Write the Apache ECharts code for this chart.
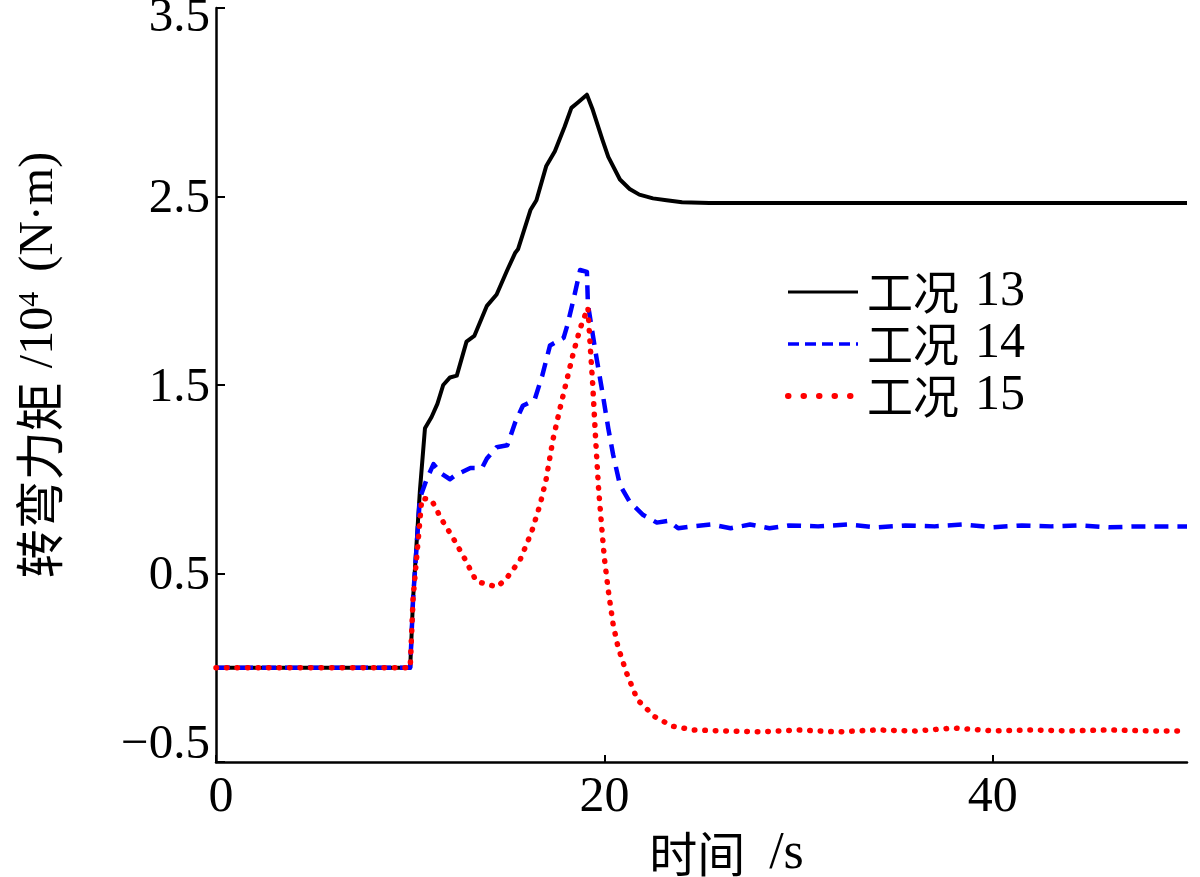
<!DOCTYPE html>
<html>
<head>
<meta charset="utf-8">
<script src="https://cdn.jsdelivr.net/npm/echarts@6/dist/echarts.min.js"></script>
<style>
html,body{margin:0;padding:0;background:#fff;}
#chart{width:1200px;height:877px;}
</style>
</head>
<body>
<div id="chart"></div>
<script>
// Series names
const seriesNames = ['工况 13', '工况 14', '工况 15'];

// 工况 13 (black solid)
const t13 = [0, 10, 10.15, 10.5, 10.76, 11.1, 11.4, 11.7, 12.05, 12.4, 12.9, 13.3, 13.95, 14.45, 15.0, 15.4, 15.55, 16.2, 16.5, 17.0, 17.45, 17.95, 18.3, 18.65, 19.1, 19.4, 19.9, 20.2, 20.8, 21.3, 21.8, 22.5, 23.2, 24.0, 25.4, 30, 35, 40, 45, 50];
const v13 = [0, 0, 0.37, 0.94, 1.27, 1.33, 1.40, 1.50, 1.54, 1.55, 1.73, 1.76, 1.92, 1.98, 2.11, 2.20, 2.22, 2.43, 2.48, 2.66, 2.74, 2.87, 2.97, 3.00, 3.04, 2.96, 2.80, 2.71, 2.59, 2.54, 2.51, 2.49, 2.48, 2.47, 2.465, 2.465, 2.465, 2.465, 2.465, 2.465];

// 工况 14 (blue dashed)
const t14 = [0, 10, 10.15, 10.5, 10.85, 11.2, 11.6, 12.05, 12.3, 13.1, 13.7, 13.95, 14.45, 15.0, 15.4, 15.8, 16.4, 16.8, 17.2, 17.9, 18.1, 18.4, 18.75, 19.1, 19.15, 19.35, 19.6, 19.9, 20.2, 20.45, 20.8, 21.3, 22.0, 22.7, 23.3, 23.8, 24.5, 25.5, 26.5, 27.5, 28.5, 29.5, 31, 32.5, 34, 35.5, 37, 38.5, 40, 41.5, 43, 44.5, 46, 47.5, 50];
const v14 = [0, 0, 0.37, 0.90, 1.00, 1.08, 1.03, 1.00, 1.02, 1.06, 1.06, 1.11, 1.17, 1.18, 1.30, 1.39, 1.42, 1.55, 1.71, 1.75, 1.82, 1.95, 2.11, 2.10, 1.93, 1.80, 1.64, 1.46, 1.27, 1.13, 0.97, 0.88, 0.81, 0.77, 0.78, 0.74, 0.75, 0.76, 0.74, 0.76, 0.74, 0.755, 0.75, 0.76, 0.745, 0.755, 0.75, 0.76, 0.745, 0.755, 0.75, 0.755, 0.745, 0.75, 0.75];

// 工况 15 (red dotted)
const t15 = [0, 10, 10.15, 10.6, 11.1, 11.6, 12.2, 12.8, 13.4, 14.0, 14.5, 15.0, 15.65, 16.25, 16.7, 17.0, 17.35, 17.7, 18.05, 18.4, 18.75, 19.15, 19.25, 19.4, 19.55, 19.7, 19.85, 20.0, 20.2, 20.45, 20.7, 21.15, 21.7, 22.6, 23.5, 24.6, 26, 28, 30, 32, 34, 36, 38, 40, 42, 44, 46, 48, 50];
const v15 = [0, 0, 0.37, 0.90, 0.89, 0.79, 0.69, 0.58, 0.46, 0.44, 0.43, 0.48, 0.57, 0.72, 0.87, 1.00, 1.21, 1.37, 1.52, 1.67, 1.80, 1.91, 1.74, 1.50, 1.21, 0.95, 0.76, 0.58, 0.41, 0.23, 0.11, -0.03, -0.17, -0.26, -0.31, -0.33, -0.335, -0.34, -0.33, -0.34, -0.33, -0.335, -0.32, -0.335, -0.33, -0.335, -0.33, -0.335, -0.335];

// Axis settings
const xMin = 0, xMax = 50, xInterval = 20;
const yMin = -0.5, yMax = 3.5, yInterval = 1;

const SERIF = "'Liberation Serif', serif";
const CJK = "'Noto Sans CJK SC', sans-serif";

function zip(a, b) { return a.map((x, i) => [x, b[i]]); }

const chart = echarts.init(document.getElementById('chart'), null, {renderer: 'canvas'});
chart.setOption({
  backgroundColor: '#ffffff',
  animation: false,
  grid: {left: 216, right: 13, top: 8, bottom: 115, containLabel: false, outerBoundsMode: 'none'},
  legend: {
    orient: 'vertical',
    left: 780,
    top: 262,
    itemWidth: 70,
    itemHeight: 20,
    itemGap: 2,
    data: [
      {name: seriesNames[0], lineStyle: {width: 3, type: 'solid'}},
      {name: seriesNames[1], lineStyle: {width: 3.5, type: [11, 6]}},
      {name: seriesNames[2], lineStyle: {width: 6, type: [0.5, 15], cap: 'round'}}
    ],
    itemStyle: {opacity: 0},
    formatter: name => {
      const parts = name.split(' ');
      return '{cjk|' + parts[0] + '}{num|' + parts[1] + '}';
    },
    textStyle: {
      color: '#000', padding: [0, 0, 0, 4],
      rich: {
        cjk: {fontSize: 46, fontFamily: CJK, color: '#000'},
        num: {fontSize: 50, fontFamily: SERIF, color: '#000', padding: [0, 0, 0, 16]}
      }
    }
  },
  xAxis: {
    type: 'value',
    min: xMin, max: xMax, interval: xInterval,
    name: '{cjk|时间}{ser|/s}',
    nameLocation: 'middle',
    nameGap: 50,
    nameTextStyle: {
      color: '#000', padding: [0, 0, 0, 50],
      rich: {
        cjk: {fontSize: 48, fontFamily: CJK, color: '#000'},
        ser: {fontSize: 52, fontFamily: SERIF, color: '#000', padding: [0, 0, 0, 24]}
      }
    },
    axisLine: {show: true, onZero: false, lineStyle: {color: '#000', width: 2.5}},
    axisTick: {show: true, inside: true, length: 7, lineStyle: {color: '#000', width: 2}},
    axisLabel: {
      color: '#000', margin: 11, showMaxLabel: false,
      formatter: v => (v === xMin ? '{first|' + v + '}' : '{n|' + v + '}'),
      rich: {
        n: {fontSize: 50, fontFamily: SERIF, color: '#000'},
        first: {fontSize: 50, fontFamily: SERIF, color: '#000', padding: [0, 0, 0, 10]}
      }
    },
    splitLine: {show: false}
  },
  yAxis: {
    type: 'value',
    min: yMin, max: yMax, interval: yInterval,
    name: '{cjk|转弯力矩}{ser|/10}{sup|4}{ser2|(N·m)}',
    nameLocation: 'middle',
    nameRotate: 90,
    nameGap: 152,
    nameTextStyle: {
      color: '#000', padding: [0, 0, 0, 40],
      rich: {
        cjk: {fontSize: 49, fontFamily: CJK, color: '#000'},
        ser: {fontSize: 48, fontFamily: SERIF, color: '#000', padding: [0, 0, 0, 14]},
        sup: {fontSize: 30, fontFamily: SERIF, color: '#000', verticalAlign: 'top'},
        ser2: {fontSize: 48, fontFamily: SERIF, color: '#000', padding: [0, 0, 0, 20]}
      }
    },
    axisLine: {show: true, onZero: false, lineStyle: {color: '#000', width: 2.5}},
    axisTick: {show: true, inside: true, length: 9, lineStyle: {color: '#000', width: 2}},
    axisLabel: {
      color: '#000', margin: 6,
      formatter: v => {
        const txt = v < 0 ? '\u2212' + Math.abs(v).toFixed(1) : v.toFixed(1);
        const key = v === yMax ? 'top' : (v === yMin ? 'bot' : 'mid');
        return '{' + key + '|' + txt + '}';
      },
      rich: {
        top: {fontSize: 49, fontFamily: SERIF, color: '#000', padding: [20, 0, 0, 0]},
        mid: {fontSize: 49, fontFamily: SERIF, color: '#000', padding: [6, 0, 0, 0]},
        bot: {fontSize: 49, fontFamily: SERIF, color: '#000', padding: [0, 0, 34, 0]}
      }
    },
    splitLine: {show: false}
  },
  series: [
    {
      name: seriesNames[0], type: 'line', data: zip(t13, v13),
      showSymbol: false, symbol: 'none', smooth: false,
      lineStyle: {color: '#000000', width: 4, type: 'solid', join: 'round'},
      itemStyle: {color: '#000000'}
    },
    {
      name: seriesNames[1], type: 'line', data: zip(t14, v14),
      showSymbol: false, symbol: 'none', smooth: false,
      lineStyle: {color: '#0000ff', width: 4.5, type: [14, 9], join: 'round'},
      itemStyle: {color: '#0000ff'}
    },
    {
      name: seriesNames[2], type: 'line', data: zip(t15, v15),
      showSymbol: false, symbol: 'none', smooth: false,
      lineStyle: {color: '#ff0000', width: 5.5, type: [0.5, 10], cap: 'round', join: 'round'},
      itemStyle: {color: '#ff0000'}
    }
  ]
});
</script>
</body>
</html>
